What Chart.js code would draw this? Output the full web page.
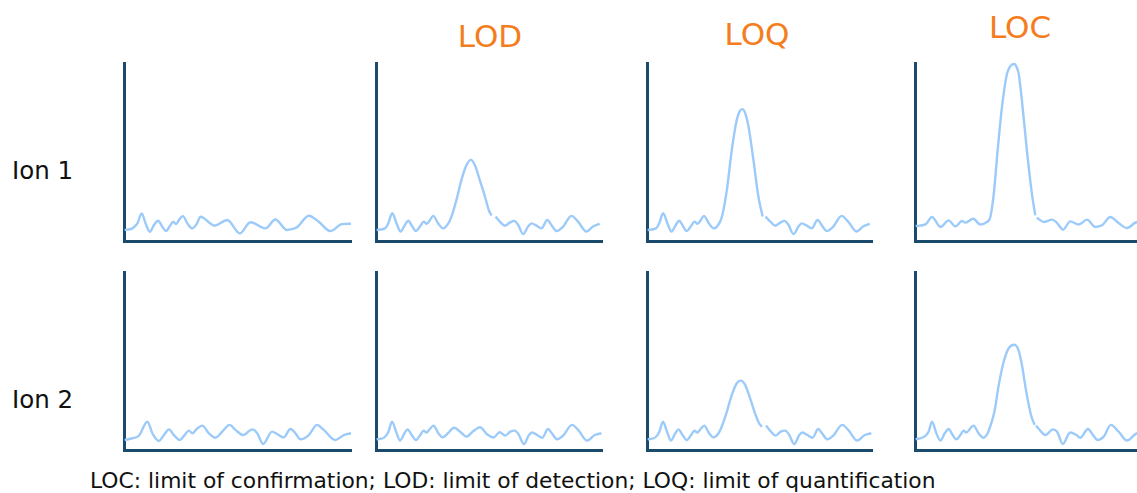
<!DOCTYPE html>
<html>
<head>
<meta charset="utf-8">
<script src="https://cdn.jsdelivr.net/npm/chart.js@4.4.1/dist/chart.umd.min.js"></script>
<style>
  html, body { margin: 0; padding: 0; background: #ffffff; }
  body { width: 1137px; height: 493px; overflow: hidden; position: relative; font-family: "DejaVu Sans", Verdana, sans-serif; }
  .panel { position: absolute; }
  .txt { position: absolute; white-space: nowrap; line-height: 1; }
  .title { color: #f47d20; font-size: 31px; text-align: center; width: 120px; }
  .row { color: #111111; font-size: 24.5px; }
  .foot { color: #111111; font-size: 21.8px; }
</style>
</head>
<body>

<div class="txt title" style="left:430px; top:21px;">LOD</div>
<div class="txt title" style="left:697px; top:19px;">LOQ</div>
<div class="txt title" style="left:960px; top:12px;">LOC</div>

<div class="txt row" style="left:12px; top:159px;">Ion 1</div>
<div class="txt row" style="left:12px; top:388px;">Ion 2</div>

<div class="txt foot" id="foot" style="left:90px; top:470px;">LOC: limit of confirmation; LOD: limit of detection; LOQ: limit of quantification</div>

<script>
// Column titles and row labels
const columnTitles = ["", "LOD", "LOQ", "LOC"];
const rowLabels = ["Ion 1", "Ion 2"];

// Signal traces: [time (% of axis), intensity (% of axis)]; null = break in the trace
const ion1Blank = [[0.3,6.2],[3.7,7.1],[5.9,9.9],[7.8,15.5],[9.5,9.9],[11.4,5.2],[13.2,9.0],[15.0,11.4],[16.9,8.0],[18.5,5.6],[20.2,8.4],[21.7,10.8],[23.0,9.5],[24.2,11.8],[26.0,14.0],[27.9,9.9],[30.1,7.1],[32.0,9.5],[33.7,13.6],[39.9,8.6],[45.5,11.8],[51.0,4.3],[55.7,10.5],[62.3,7.1],[66.7,12.1],[71.8,6.2],[76.2,7.7],[81.4,14.2],[85.8,10.8],[90.9,5.6],[96.0,9.5],[100,9.7]];

const ion1LOD = [[0.3,6.2],[4.0,7.1],[5.4,9.9],[7.2,15.6],[9.1,9.9],[10.9,5.3],[12.8,9.0],[14.3,11.4],[16.1,8.1],[17.7,5.6],[19.4,8.1],[21.2,10.9],[22.4,9.6],[23.9,11.8],[25.3,14.1],[27.5,9.9],[29.7,7.1],[32.0,9.9],[33.4,13.7],[35.6,23.1],[37.8,34.3],[40.1,42.8],[42.0,45.6],[43.7,42.8],[45.9,34.3],[48.2,25.0],[49.9,17.4],[51.1,14.3],[52.0,null],[52.9,13.7],[54.8,10.9],[57.0,8.6],[59.2,10.3],[61.1,11.3],[62.9,9.0],[65.1,3.9],[67.3,8.1],[68.8,9.9],[71.0,8.6],[73.2,7.1],[75.8,11.8],[77.6,9.0],[79.8,5.6],[82.8,8.1],[86.5,14.1],[89.4,10.9],[93.1,5.3],[96.0,8.1],[99.0,9.6]];

const ion1LOQ = [[0.3,6.2],[4.0,7.1],[5.4,9.9],[7.2,15.6],[9.1,9.9],[10.9,5.3],[12.8,9.0],[14.3,11.4],[16.1,8.1],[17.7,5.6],[19.4,8.1],[21.2,10.9],[22.4,9.6],[23.9,11.8],[25.3,14.1],[27.5,9.9],[29.7,7.1],[32.5,10.9],[33.5,14.6],[35.5,28.7],[37.7,51.2],[39.9,68.1],[41.2,73.0],[42.4,74.1],[43.6,72.0],[45.1,64.4],[47.3,45.6],[49.5,25.0],[51.4,13.7],[52.0,null],[52.7,13.7],[54.8,10.9],[57.0,8.6],[59.2,10.3],[61.1,11.3],[62.9,9.0],[65.1,3.9],[67.3,8.1],[68.8,9.9],[71.0,8.6],[73.2,7.1],[75.8,11.8],[77.6,9.0],[79.8,5.6],[82.8,8.1],[86.5,14.1],[89.4,10.9],[93.1,5.3],[96.0,8.1],[99.0,9.6]];

const ion1LOC = [[0.3,8.4],[4.6,9.3],[7.5,13.5],[11.2,7.9],[14.8,11.6],[17.8,8.2],[20.7,11.2],[22.2,10.3],[25.6,12.5],[28.8,9.3],[31.7,10.7],[33.2,13.5],[34.7,26.5],[36.4,50.8],[38.3,75.1],[40.5,93.8],[42.2,98.5],[43.8,99.4],[45.0,97.0],[45.7,93.8],[47.1,78.9],[49.3,50.8],[51.5,26.5],[53.0,14.4],[53.4,null],[53.7,13.1],[56.7,10.7],[60.4,12.0],[62.6,10.1],[65.2,6.4],[68.4,11.0],[72.1,9.3],[75.8,12.0],[79.4,7.9],[82.4,8.8],[86.0,13.5],[89.7,10.1],[93.4,7.3],[97.9,10.7],[100,10.5]];

const ion2Blank = [[0.3,5.6],[3.7,6.6],[6.6,8.1],[10.3,15.9],[12.5,9.4],[15.4,5.1],[17.6,8.4],[19.8,11.6],[22.0,8.4],[24.5,5.6],[26.7,8.4],[28.6,10.9],[30.1,9.4],[32.0,11.8],[34.5,13.7],[37.4,9.4],[40.3,6.9],[43.3,10.3],[46.5,14.1],[49.1,11.3],[52.5,8.4],[56.5,11.6],[58.7,9.4],[61.3,3.4],[65.2,10.3],[67.4,9.0],[70.4,7.1],[73.3,11.8],[75.5,9.4],[77.7,6.0],[81.4,8.4],[85.0,14.1],[88.0,11.3],[93.1,5.6],[96.8,8.4],[100,9.4]];

const ion2LOD = [[0.3,6.0],[3.7,7.1],[5.5,10.3],[7.1,15.9],[8.9,10.3],[10.6,5.3],[12.6,9.4],[14.0,11.6],[15.8,8.4],[17.7,5.6],[19.6,8.4],[21.1,10.9],[22.3,9.8],[23.8,11.8],[25.4,13.7],[27.6,9.4],[29.5,7.1],[31.8,9.4],[34.5,12.5],[37.5,10.0],[40.0,7.5],[43.0,10.5],[46.0,12.8],[49.0,9.0],[52.0,7.0],[54.7,10.0],[57.2,8.1],[59.4,10.3],[61.3,10.9],[63.1,8.8],[65.4,3.4],[67.7,8.4],[69.1,9.8],[71.3,8.4],[73.6,6.9],[76.1,11.8],[77.8,9.4],[80.1,6.0],[83.0,8.4],[86.7,14.1],[89.7,10.9],[93.4,5.3],[96.8,8.4],[99.7,9.4]];

const ion2LOQ = [[0.3,6.0],[3.7,7.1],[5.5,10.3],[7.1,15.9],[8.9,10.3],[10.6,5.3],[12.6,9.4],[14.0,11.6],[15.8,8.4],[17.7,5.6],[19.6,8.4],[21.1,10.9],[22.3,9.8],[23.8,11.8],[25.4,13.7],[27.6,9.4],[29.5,7.1],[31.8,9.4],[33.2,13.1],[35.5,21.6],[37.7,31.0],[39.9,37.5],[41.7,39.0],[43.6,36.6],[45.8,29.1],[48.0,20.6],[49.8,15.0],[51.0,13.1],[52.0,null],[52.9,13.7],[54.7,10.9],[57.2,8.1],[59.4,10.3],[61.3,10.9],[63.1,8.8],[65.4,3.4],[67.7,8.4],[69.1,9.8],[71.3,8.4],[73.6,6.9],[76.1,11.8],[77.8,9.4],[80.1,6.0],[83.0,8.4],[86.7,14.1],[89.7,10.9],[93.4,5.3],[96.8,8.4],[99.7,9.4]];

const ion2LOC = [[0.3,6.0],[4.1,7.5],[6.0,10.3],[7.5,15.9],[9.4,9.4],[11.2,5.3],[13.1,9.4],[14.8,11.8],[16.6,8.4],[18.2,6.0],[20.0,8.4],[21.4,10.9],[22.6,9.8],[24.4,12.2],[25.8,13.7],[28.0,9.4],[30.2,6.9],[32.0,9.4],[33.2,13.5],[35.0,21.6],[36.9,36.6],[39.1,49.7],[41.3,57.2],[43.8,59.1],[45.7,55.7],[47.1,47.8],[49.0,32.8],[51.1,19.7],[52.7,14.1],[53.0,null],[53.3,13.7],[55.2,10.9],[57.4,8.4],[60.8,11.6],[62.6,10.3],[65.1,3.4],[68.4,9.8],[71.1,8.4],[72.8,6.9],[76.2,11.8],[78.4,8.4],[80.5,5.6],[83.1,7.5],[86.3,14.1],[89.7,10.3],[93.4,5.3],[97.8,9.4],[100,9.6]];

const panelData = [
  [ion1Blank, ion1LOD, ion1LOQ, ion1LOC],
  [ion2Blank, ion2LOD, ion2LOQ, ion2LOC]
];

// Layout (page geometry)
const colLeft = [124, 376, 647, 915];
const colWidth = [227, 226, 225, 227];
const rowTop = [63, 272];
const rowHeight = 178;
const PAD = 6;
const axisColor = "#1b4b6c";
const lineColor = "#9ccbf9";

panelData.forEach((row, r) => {
  row.forEach((series, c) => {
    const cv = document.createElement("canvas");
    const w = colWidth[c] + PAD * 2, h = rowHeight + PAD * 2;
    cv.className = "panel";
    cv.width = w; cv.height = h;
    cv.style.left = (colLeft[c] - PAD) + "px";
    cv.style.top = (rowTop[r] - PAD) + "px";
    cv.style.width = w + "px"; cv.style.height = h + "px";
    document.body.appendChild(cv);
    new Chart(cv, {
      type: "line",
      data: {
        datasets: [{
          data: series.map(p => ({ x: p[0], y: p[1] })),
          borderColor: lineColor,
          borderWidth: 2.4,
          pointRadius: 0,
          fill: false,
          cubicInterpolationMode: "monotone",
          spanGaps: false,
          clip: false
        }]
      },
      options: {
        responsive: false,
        animation: false,
        events: [],
        layout: { padding: PAD },
        plugins: { legend: { display: false }, tooltip: { enabled: false }, title: { display: false } },
        scales: {
          x: {
            type: "linear", min: 0, max: 100,
            ticks: { display: false },
            grid: { display: false, drawTicks: false },
            border: { display: true, color: axisColor, width: 3 },
            afterFit: s => { s.height = 0; }
          },
          y: {
            type: "linear", min: 0, max: 100,
            ticks: { display: false },
            grid: { display: false, drawTicks: false },
            border: { display: true, color: axisColor, width: 3 },
            afterFit: s => { s.width = 0; }
          }
        }
      }
    });
  });
});
</script>
</body>
</html>
